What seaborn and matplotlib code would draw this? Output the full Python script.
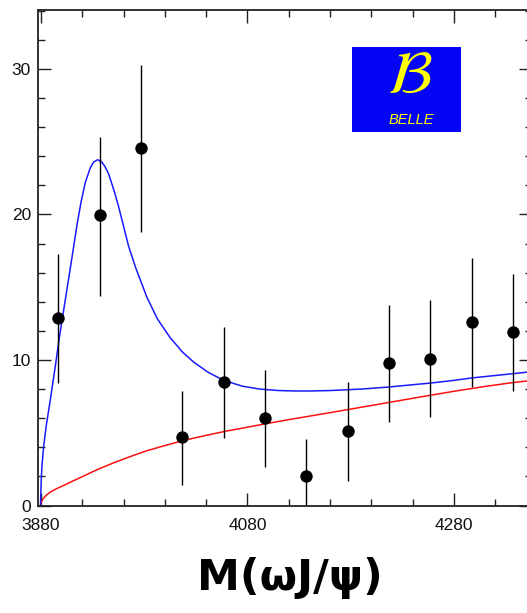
import numpy as np
import pandas as pd
import matplotlib
matplotlib.use("Agg")
import matplotlib.pyplot as plt
from matplotlib.patches import Rectangle
from matplotlib.ticker import MultipleLocator
import seaborn as sns

# ---- data ----
mass = [3897, 3937, 3977, 4017, 4057, 4097, 4137, 4177, 4217, 4257, 4297, 4337]
events = [12.87, 19.93, 24.54, 4.69, 8.47, 6.00, 2.01, 5.09, 9.78, 10.08, 12.60, 11.91]
err_low = [4.44, 5.50, 5.76, 3.25, 3.82, 3.37, 2.60, 3.42, 4.01, 4.01, 4.47, 4.05]
err_high = [4.43, 5.38, 5.70, 3.21, 3.83, 3.33, 2.57, 3.38, 4.01, 4.06, 4.42, 4.01]

fit_mass = [3879.6, 3880.3, 3881.0, 3882.6, 3885.0, 3889.0, 3894.0, 3898.0, 3904.0,
            3910.0, 3915.0, 3919.0, 3923.0, 3927.8, 3931.0, 3935.0, 3939.0, 3942.0,
            3945.5, 3951.0, 3955.0, 3960.0, 3965.0, 3972.0, 3982.7, 3993.0, 4005.0,
            4017.0, 4028.0, 4042.0, 4057.0, 4075.0, 4092.0, 4110.0, 4125.0, 4142.0,
            4160.0, 4190.0, 4215.0, 4240.0, 4257.0, 4280.0, 4299.0, 4325.0, 4356.0]
fit_total = [0.0, 1.7, 2.7, 4.0, 5.4, 7.2, 9.6, 11.6, 14.3,
             17.0, 19.3, 20.9, 22.2, 23.2, 23.6, 23.76, 23.6, 23.3,
             22.8, 21.6, 20.6, 19.2, 17.8, 16.3, 14.3, 12.8, 11.55,
             10.55, 9.85, 9.15, 8.6, 8.2, 8.0, 7.9, 7.87, 7.87,
             7.9, 8.0, 8.13, 8.3, 8.41, 8.6, 8.78, 8.97, 9.2]
bkg_mass = [3879.6, 3880.2, 3881.0, 3882.0, 3883.5, 3885.5, 3888.0, 3891.0, 3895.0,
            3902.0, 3910.0, 3920.0, 3934.0, 3950.0, 3966.0, 3982.0, 3999.0, 4017.0,
            4040.0, 4060.0, 4080.0, 4097.0, 4120.0, 4140.0, 4160.0, 4190.0, 4220.0,
            4250.0, 4280.0, 4310.0, 4335.0, 4356.0]
bkg_total = [0.0, 0.2, 0.33, 0.45, 0.58, 0.72, 0.86, 1.0, 1.15,
             1.38, 1.65, 1.98, 2.45, 2.92, 3.35, 3.75, 4.1, 4.45,
             4.82, 5.12, 5.38, 5.61, 5.9, 6.14, 6.38, 6.75, 7.12,
             7.49, 7.85, 8.18, 8.43, 8.6]

x_major = [3880, 4080, 4280]
y_major = [0, 10, 20, 30]

# ---- figure ----
sns.set_style("ticks")
plt.rcParams["font.family"] = ["Liberation Sans", "DejaVu Sans"]
plt.rcParams["mathtext.fontset"] = "stix"

W, H = 527, 613
fig = plt.figure(figsize=(W / 100, H / 100), dpi=100)
ax = fig.add_axes([38 / W, 107.5 / H, (532 - 38) / W, (505.5 - 10) / H])

df_fit = pd.DataFrame({"m": fit_mass, "n": fit_total})
df_bkg = pd.DataFrame({"m": bkg_mass, "n": bkg_total})
df_pts = pd.DataFrame({"m": mass, "n": events})

sns.lineplot(data=df_bkg, x="m", y="n", ax=ax, color="#ff1010", lw=1.1,
             sort=False, estimator=None, zorder=2)
sns.lineplot(data=df_fit, x="m", y="n", ax=ax, color="#1a1aff", lw=1.1,
             sort=False, estimator=None, zorder=2)
ax.errorbar(mass, events, yerr=[err_low, err_high], fmt="none",
            ecolor="black", elinewidth=1.0, capsize=0, zorder=3)
sns.scatterplot(data=df_pts, x="m", y="n", ax=ax, color="black", s=80,
                edgecolor="black", linewidth=0, zorder=4)

ax.set_xlim(3877.2, 4355.5)
ax.set_ylim(0, 34.05)
ax.set_xticks(x_major)
ax.set_xticklabels([str(v) for v in x_major])
ax.set_yticks(y_major)
ax.set_yticklabels([str(v) for v in y_major])
ax.xaxis.set_minor_locator(MultipleLocator(40))
ax.yaxis.set_minor_locator(MultipleLocator(2))
ax.set_xlabel("")
ax.set_ylabel("")

for s in ax.spines.values():
    s.set_visible(True)
    s.set_linewidth(1.3)
    s.set_color("#222222")

ax.tick_params(axis="both", which="major", direction="in", length=9.5, width=1.0,
               color="#222222", top=True, right=True, labelsize=12.5,
               labelcolor="#111111")
ax.tick_params(axis="both", which="minor", direction="in", length=5, width=1.0,
               color="#222222", top=True, right=True)
ax.tick_params(axis="y", which="major", pad=5)
ax.tick_params(axis="x", which="major", pad=9)
ax.set_facecolor("white")

# x-axis title
fig.text(290 / W, 1 - 578 / H, "M(ωJ/ψ)", ha="center", va="center",
         fontsize=31, fontweight="bold", family=["DejaVu Sans"], color="black")

# Belle logo
logo = Rectangle((351.7 / W, 1 - 131.7 / H), 109 / W, 84.4 / H,
                 transform=fig.transFigure, facecolor="#0505f5", edgecolor="none",
                 zorder=5)
fig.patches.append(logo)
fig.text(410 / W, 1 - 77 / H, r"$\mathcal{B}$", ha="center", va="center",
         fontsize=44, color="#ffff00", zorder=6)
fig.text(411.7 / W, 1 - 120 / H, "BELLE", ha="center", va="center",
         fontsize=10.5, style="italic", color="#ffff00", zorder=6,
         family=["Liberation Sans"])

fig.savefig("out.png", dpi=100)
